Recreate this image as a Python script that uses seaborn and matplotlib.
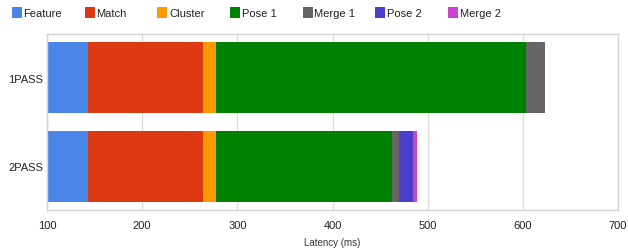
import matplotlib
import matplotlib.pyplot as plt
import numpy as np
import pandas as pd
import seaborn as sns
from matplotlib.patches import Rectangle

matplotlib.use("Agg")

runs = ["1PASS", "2PASS"]
stages = ["Feature", "Match", "Cluster", "Pose 1", "Merge 1", "Pose 2", "Merge 2"]
colors = ["#4a86e8", "#dc3912", "#ff9900", "#008000", "#666666", "#4a3fcc", "#cc44cc"]

# latency per stage (ms)
feature = [143, 143]
match = [121, 121]
cluster = [14, 14]
pose1 = [325, 185]
merge1 = [20, 7]
pose2 = [0, 15]
merge2 = [0, 4]

sns.set_style("white")
plt.rcParams["font.family"] = ["Liberation Sans", "DejaVu Sans"]

df = pd.DataFrame(
    {"run": runs, "Feature": feature, "Match": match, "Cluster": cluster,
     "Pose 1": pose1, "Merge 1": merge1, "Pose 2": pose2, "Merge 2": merge2}
)
cum = df[stages].cumsum(axis=1)

fig = plt.figure(figsize=(6.28, 2.51), dpi=100)
ax = fig.add_axes([47 / 628, 1 - 211 / 251, 571 / 628, 176 / 251])

# draw cumulative totals from the last stage back so each stage shows on top
for stage, color in reversed(list(zip(stages, colors))):
    sns.barplot(x=cum[stage], y=df["run"], color=color, orient="h",
                width=0.79, linewidth=0, saturation=1, ax=ax, zorder=2)

ax.set_xlim(100, 700)
ax.set_ylim(1.49, -0.49)
ax.set_xticks([100, 200, 300, 400, 500, 600, 700])
ax.grid(axis="x", color="#dddddd", linewidth=1, zorder=0)
ax.set_axisbelow(True)
for s in ax.spines.values():
    s.set_color("#d4d4d4")
    s.set_linewidth(1)
ax.tick_params(axis="both", length=0, labelsize=8, colors="#222222")
ax.tick_params(axis="x", pad=7)
ax.tick_params(axis="y", pad=3)
ax.set_ylabel("")
ax.set_xlabel("Latency (ms)", fontsize=7, color="#333333", labelpad=5)

# legend along the top, evenly spaced
for i, (stage, color) in enumerate(zip(stages, colors)):
    x0 = 12 + 72.7 * i
    fig.patches.append(Rectangle((x0 / 628, 1 - 19 / 251), 10 / 628, 11 / 251,
                                 transform=fig.transFigure, facecolor=color,
                                 edgecolor="none"))
    fig.text((x0 + 11.5) / 628, 1 - 14 / 251, stage, fontsize=8,
             color="#222222", va="center", ha="left")

fig.savefig("out.png", dpi=100)
